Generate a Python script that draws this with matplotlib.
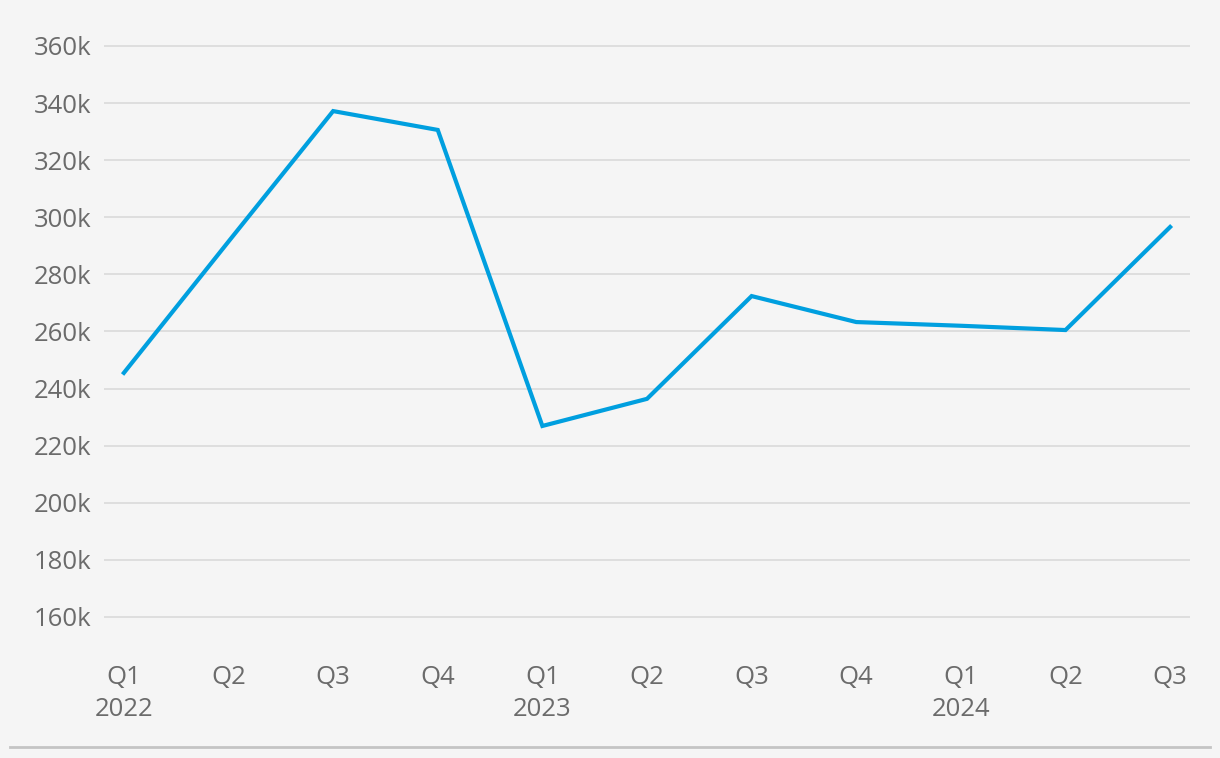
import matplotlib
matplotlib.use("Agg")
import matplotlib.pyplot as plt
from matplotlib.ticker import FuncFormatter

plt.rcParams["font.family"] = ["Open Sans", "DejaVu Sans"]

quarters = ["Q1", "Q2", "Q3", "Q4", "Q1", "Q2", "Q3", "Q4", "Q1", "Q2", "Q3"]
years = ["2022", "", "", "", "2023", "", "", "", "2024", "", ""]
values = [245500, 291500, 337200, 330600, 226900, 236400, 272400, 263300, 262000, 260500, 296600]
y_ticks = [160000, 180000, 200000, 220000, 240000, 260000, 280000, 300000, 320000, 340000, 360000]

BG = "#f5f5f5"
LINE = "#009fdf"
TEXT = "#6b6b6b"

fig = plt.figure(figsize=(12.2, 7.58), dpi=100, facecolor=BG)
ax = fig.add_axes([104 / 1220, 1 - 645.5 / 758, (1190 - 104) / 1220, (645.5 - 44) / 758])
ax.set_facecolor(BG)

x = list(range(len(values)))
ax.plot(x, values, color=LINE, linewidth=3, solid_joinstyle="miter", zorder=3)

ax.set_xlim(-0.19, len(values) - 1 + 0.19)
ax.set_ylim(150000, 360700)
ax.set_yticks(y_ticks)
ax.yaxis.set_major_formatter(FuncFormatter(lambda v, p: f"{int(v / 1000)}k"))
ax.grid(axis="y", color="#dcdcdc", linewidth=1.3)
ax.set_axisbelow(True)

labels = [q + ("\n" + yr if yr else "\n") for q, yr in zip(quarters, years)]
ax.set_xticks(x)
ax.set_xticklabels(labels, linespacing=1.35)

for s in ax.spines.values():
    s.set_visible(False)
ax.tick_params(axis="both", length=0, labelsize=18.5, colors=TEXT)
ax.tick_params(axis="y", pad=9)
ax.tick_params(axis="x", pad=14)
for t in ax.get_xticklabels():
    t.set_verticalalignment("top")

fig.add_artist(plt.Line2D([10 / 1220, 1210 / 1220], [1 - 746.5 / 758] * 2,
                          color="#c4c4c4", linewidth=2))

fig.savefig("out.png", dpi=100, facecolor=BG)
